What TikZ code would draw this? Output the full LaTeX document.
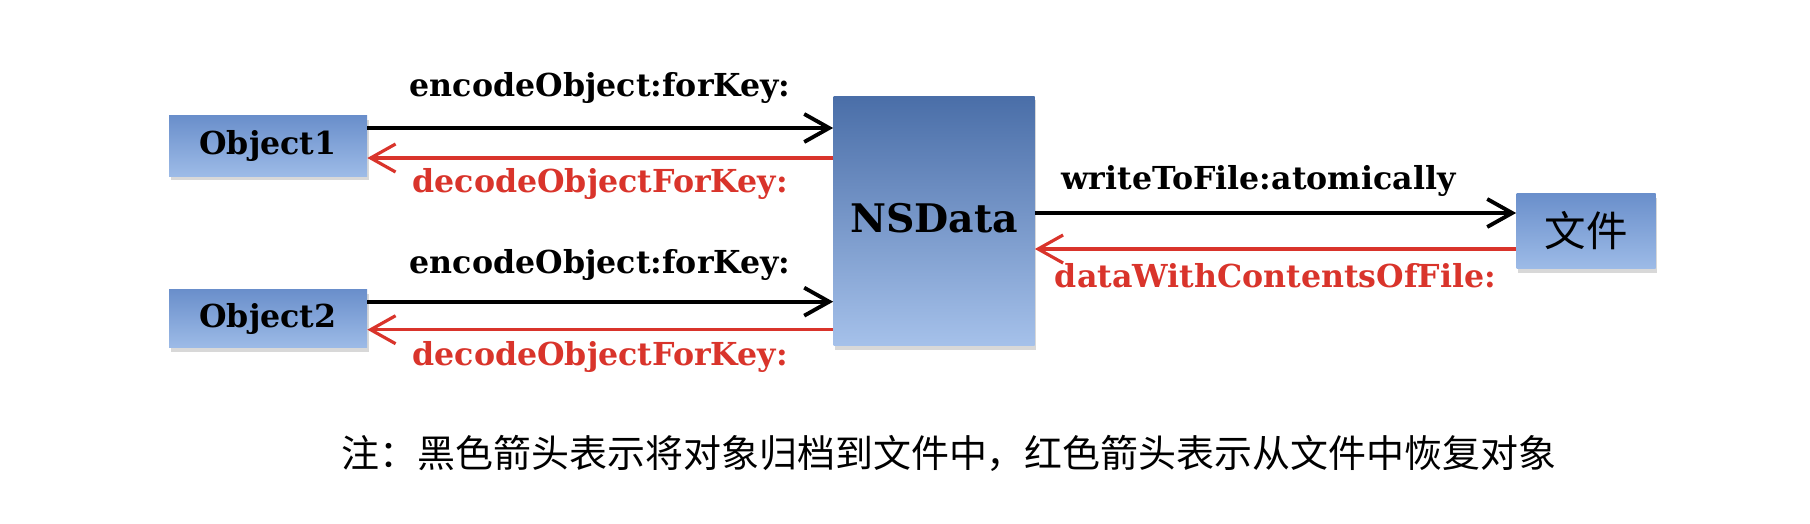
\documentclass[tikz,border=0pt]{standalone}
\usepackage{fontspec}
\newfontfamily\cjk{Noto Sans CJK SC}
\newfontfamily\slab{DejaVu Serif}
\usepackage{tikz}
\usetikzlibrary{arrows.meta, positioning, shadows}
\definecolor{arrowred}{HTML}{D9342B}
\definecolor{boxtop}{HTML}{6A8FCB}
\definecolor{boxbottom}{HTML}{9DBBE7}
\definecolor{datatop}{HTML}{4A6EA8}
\definecolor{databottom}{HTML}{A5C1EA}
\tikzset{pusharrow/.style={black, line width=2.2pt, -{Straight Barb[length=5mm, width=5.6mm]}},
	pullarrow/.style={arrowred, line width=1.8pt, -{Straight Barb[length=5mm, width=5.6mm]}},
	lbl/.style={font=\slab\bfseries\fontsize{18}{22}\selectfont}
}
\tikzstyle{obj_box} = [top color=boxtop, bottom color=boxbottom, minimum width=3.96cm, minimum height=1.2cm, inner sep=0pt, font=\slab\bfseries\fontsize{18}{22}\selectfont, drop shadow={opacity=.3, shadow xshift=.03cm, shadow yshift=-.08cm}]
\tikzstyle{data_box} = [top color=datatop, bottom color=databottom, minimum width=4.02cm, minimum height=4.98cm, inner sep=0pt, font=\slab\bfseries\fontsize{22.4}{27}\selectfont, drop shadow={opacity=.3, shadow xshift=.03cm, shadow yshift=-.08cm}]

\begin{document}
\begin{tikzpicture}
				\useasboundingbox[fill=white] (0,0) rectangle (36.2,-10.48);
				\node[data_box](nsdata) at (18.68,-4.42) {\raisebox{.12cm}{NSData}};
				\node[obj_box](obj1) at (5.36,-2.92) {Object1};
				\node[obj_box, below=2.26cm of obj1, minimum height=1.16cm](obj2) {Object2};
				\node[obj_box, minimum width=2.78cm, minimum height=1.5cm, font=\cjk\fontsize{23.6}{28}\selectfont](file) at (31.72,-4.62) {文件};
				
				% draw lines
				\draw[pusharrow] ([yshift=.36cm]obj1.east) -- ([yshift=.36cm]obj1.east -| nsdata.west) node [midway, yshift=.8cm, lbl]{encodeObject:forKey:};
				\draw[pullarrow] ([yshift=-.24cm]obj1.east -| nsdata.west) -- ([yshift=-.24cm]obj1.east) node [midway, yshift=-.52cm, lbl, arrowred]{decodeObjectForKey:};
				\draw[pusharrow] ([yshift=.34cm]obj2.east) -- ([yshift=.34cm]obj2.east -| nsdata.west) node [midway, yshift=.74cm, lbl]{encodeObject:forKey:};
				\draw[pullarrow] ([yshift=-.22cm]obj2.east -| nsdata.west) -- ([yshift=-.22cm]obj2.east) node [midway, yshift=-.54cm, lbl, arrowred]{decodeObjectForKey:};
				\draw[pusharrow] ([yshift=.36cm]file.west -| nsdata.east) -- ([yshift=.36cm]file.west) node [midway, yshift=.64cm, xshift=-.34cm, lbl]{writeToFile:atomically};
				\draw[pullarrow] ([yshift=-.36cm]file.west) -- ([yshift=-.36cm]file.west -| nsdata.east) node [midway, yshift=-.54cm, lbl, arrowred]{dataWithContentsOfFile:};
				
				\node[font=\cjk\fontsize{21.6}{26}\selectfont] (note) at (18.98,-9.06) {注：黑色箭头表示将对象归档到文件中，红色箭头表示从文件中恢复对象};
			\end{tikzpicture}
\end{document}
